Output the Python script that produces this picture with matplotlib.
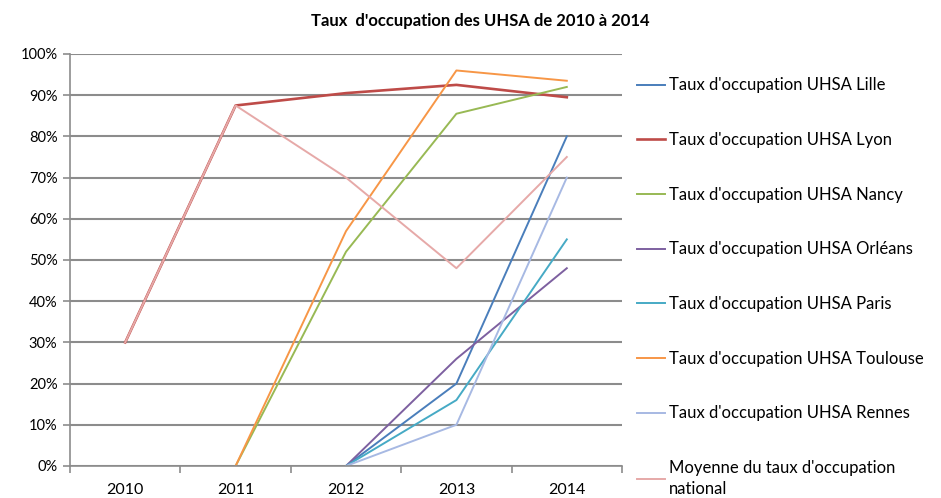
import numpy as np
import matplotlib
matplotlib.use("Agg")
import matplotlib.pyplot as plt
from matplotlib.ticker import FuncFormatter, FixedLocator

plt.rcParams['font.family'] = ['Lato', 'DejaVu Sans']

years = ["2010", "2011", "2012", "2013", "2014"]
nan = np.nan

# taux d'occupation (%)
lille = [nan, nan, 0, 20, 80]
lyon = [30, 87.5, 90.5, 92.5, 89.5]
nancy = [nan, 0, 52, 85.5, 92]
orleans = [nan, nan, 0, 26, 48]
paris = [nan, nan, 0, 16, 55]
toulouse = [nan, 0, 57, 96, 93.5]
rennes = [nan, nan, 0, 10, 70]
moyenne = [30, 87.5, 70, 48, 75]

series = [
    ("Taux d'occupation UHSA Lille", lille, "#4A7EBB", 1.4),
    ("Taux d'occupation UHSA Lyon", lyon, "#BE4B48", 1.9),
    ("Taux d'occupation UHSA Nancy", nancy, "#98B954", 1.4),
    ("Taux d'occupation UHSA Orléans", orleans, "#7D60A0", 1.4),
    ("Taux d'occupation UHSA Paris", paris, "#46AAC5", 1.4),
    ("Taux d'occupation UHSA Toulouse", toulouse, "#F79646", 1.4),
    ("Taux d'occupation UHSA Rennes", rennes, "#A7B9E3", 1.4),
    ("Moyenne du taux d'occupation\nnational", moyenne, "#E6A9A8", 1.4),
]

fig = plt.figure(figsize=(9.41, 4.98), dpi=100)
ax = fig.add_axes([0.0744, 0.0643, 0.5866, 0.8273])

x = np.arange(len(years))
for label, vals, col, lw in series:
    ax.plot(x, vals, color=col, lw=lw, label=label)

ax.set_xlim(-0.5, 4.5)
ax.set_ylim(0, 100)
ax.set_yticks(np.arange(0, 101, 10))
ax.yaxis.set_major_formatter(FuncFormatter(lambda v, p: "%d%%" % v))
ax.grid(axis="y", color="#8c8c8c", lw=1.5)
ax.set_axisbelow(True)

ax.set_xticks(x)
ax.set_xticklabels(years)
ax.xaxis.set_minor_locator(FixedLocator(np.arange(-0.5, 4.6, 1)))
ax.tick_params(axis="x", which="major", length=0, labelsize=11.5, pad=12)
ax.tick_params(axis="x", which="minor", length=5, color="#8c8c8c", width=1.2)
ax.tick_params(axis="y", length=5, color="#8c8c8c", width=1.2, labelsize=10.5, pad=4)

for s in ["top", "right"]:
    ax.spines[s].set_visible(False)
for s in ["left", "bottom"]:
    ax.spines[s].set_color("#8c8c8c")
    ax.spines[s].set_linewidth(1.2)

leg = ax.legend(loc="upper left", bbox_to_anchor=(1.027, 0.943), frameon=False,
                fontsize=12, labelspacing=2.32, handlelength=1.7, handletextpad=0.2,
                borderaxespad=0, borderpad=0)
for t in leg.get_texts():
    t.set_linespacing(1.35)

fig.text(0.51, 0.958, "Taux  d'occupation des UHSA de 2010 à 2014",
         ha="center", va="center", fontsize=12, fontweight="bold")

fig.savefig("out.png", dpi=100)
